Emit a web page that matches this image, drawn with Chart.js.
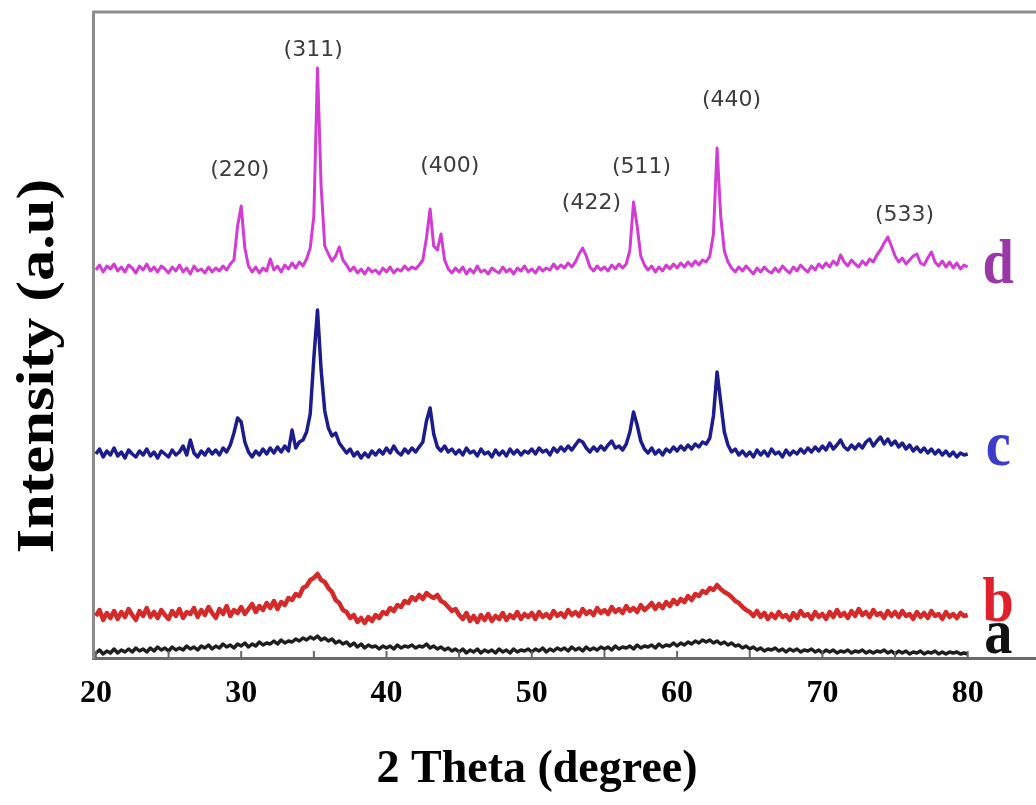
<!DOCTYPE html>
<html>
<head>
<meta charset="utf-8">
<script src="https://cdn.jsdelivr.net/npm/chart.js@4.4.1/dist/chart.umd.min.js"></script>
<style>
  html, body { margin: 0; padding: 0; background: #fff; }
  #xrd { display: block; }
</style>
</head>
<body>
<canvas id="xrd" width="1036" height="805"></canvas>
<script>
// 2 theta (degree)
const twoTheta = [
  20,20.25,20.5,20.75,21,21.25,21.5,21.75,22,22.25,22.5,22.75,23,23.25,23.5,23.75,24,24.25,24.5,24.75,
  25,25.25,25.5,25.75,26,26.25,26.5,26.75,27,27.25,27.5,27.75,28,28.25,28.5,28.75,29,29.25,29.5,29.75,
  30,30.25,30.5,30.75,31,31.25,31.5,31.75,32,32.25,32.5,32.75,33,33.25,33.5,33.75,34,34.25,34.5,34.75,
  35,35.25,35.5,35.75,36,36.25,36.5,36.75,37,37.25,37.5,37.75,38,38.25,38.5,38.75,39,39.25,39.5,39.75,
  40,40.25,40.5,40.75,41,41.25,41.5,41.75,42,42.25,42.5,42.75,43,43.25,43.5,43.75,44,44.25,44.5,44.75,
  45,45.25,45.5,45.75,46,46.25,46.5,46.75,47,47.25,47.5,47.75,48,48.25,48.5,48.75,49,49.25,49.5,49.75,
  50,50.25,50.5,50.75,51,51.25,51.5,51.75,52,52.25,52.5,52.75,53,53.25,53.5,53.75,54,54.25,54.5,54.75,
  55,55.25,55.5,55.75,56,56.25,56.5,56.75,57,57.25,57.5,57.75,58,58.25,58.5,58.75,59,59.25,59.5,59.75,
  60,60.25,60.5,60.75,61,61.25,61.5,61.75,62,62.25,62.5,62.75,63,63.25,63.5,63.75,64,64.25,64.5,64.75,
  65,65.25,65.5,65.75,66,66.25,66.5,66.75,67,67.25,67.5,67.75,68,68.25,68.5,68.75,69,69.25,69.5,69.75,
  70,70.25,70.5,70.75,71,71.25,71.5,71.75,72,72.25,72.5,72.75,73,73.25,73.5,73.75,74,74.25,74.5,74.75,
  75,75.25,75.5,75.75,76,76.25,76.5,76.75,77,77.25,77.5,77.75,78,78.25,78.5,78.75,79,79.25,79.5,79.75,
  80
];

// intensity (a.u), curves already offset (stacked)
const sampleA = [
  5,8,4,7,5,9,5,8,6,9,6,10,7,9,6,10,7,11,8,10,
  7,11,8,10,8,12,9,11,8,12,10,13,9,12,10,14,11,13,10,14,
  12,15,11,14,12,16,13,15,14,17,14,18,15,17,16,19,17,20,18,21,
  19,22,18,20,17,19,15,17,14,16,12,15,11,14,10,13,11,12,9,12,
  10,12,9,13,10,12,11,13,10,12,11,14,10,12,9,11,8,10,7,9,
  6,9,5,8,6,9,5,8,6,8,5,9,6,8,5,9,6,8,7,9,
  6,9,7,10,6,9,7,10,8,10,7,11,8,10,7,11,8,10,8,11,
  9,11,8,12,9,11,10,12,9,13,10,12,11,13,10,14,11,13,12,15,
  12,15,13,16,14,17,15,18,16,18,15,17,14,16,13,15,12,13,10,12,
  9,11,8,10,7,9,8,10,7,9,6,9,7,9,6,8,7,9,6,8,
  5,8,6,8,5,7,6,8,5,7,6,8,5,7,5,7,6,8,5,7,
  4,7,5,7,4,6,5,7,4,6,5,7,4,6,4,6,5,6,4,5,
  4
];

const sampleB = [
  42,48,38,45,40,47,39,46,41,49,43,38,47,42,50,41,46,40,48,43,
  39,47,42,49,40,46,44,50,41,48,43,51,45,40,49,44,52,42,48,45,
  51,44,49,54,46,52,48,55,50,57,49,56,53,60,58,64,62,70,72,78,
  80,84,78,76,70,66,58,55,48,46,40,43,36,40,35,41,37,43,40,46,
  44,50,47,53,51,57,55,61,58,63,59,65,62,60,63,57,55,51,47,49,
  43,39,45,37,42,36,43,38,44,37,42,39,45,38,43,40,46,39,44,41,
  45,39,46,41,44,40,47,42,45,41,48,43,46,42,49,44,47,43,50,45,
  48,44,51,46,49,45,52,47,50,46,53,48,51,55,49,54,50,56,52,58,
  54,59,56,62,58,64,62,67,65,70,68,73,69,66,64,61,57,55,51,48,
  46,42,47,41,45,39,44,40,46,41,43,38,45,40,47,42,44,39,46,41,
  44,39,46,41,48,42,45,40,47,42,49,43,46,41,48,43,45,40,47,42,
  46,41,47,42,44,39,46,41,45,40,47,42,44,39,46,41,44,40,45,42,
  43
];

const sampleC = [
  204,209,201,207,203,210,202,206,200,208,204,201,207,203,209,202,206,200,207,204,
  201,208,203,206,212,203,218,205,201,207,203,209,204,208,203,210,206,213,225,240,
  236,216,206,201,207,203,209,204,210,205,211,206,212,207,228,210,216,218,226,244,
  300,348,288,247,230,222,225,215,210,205,209,202,206,200,205,201,207,203,208,204,
  210,205,212,206,203,209,205,210,206,211,216,237,250,224,211,207,212,206,209,204,
  208,203,210,205,207,202,209,204,206,201,208,203,207,202,209,204,208,203,207,205,
  209,204,210,206,208,203,210,206,211,207,212,208,213,218,216,210,206,211,207,212,
  208,213,217,210,212,208,214,226,246,233,217,209,205,210,204,208,203,209,206,211,
  207,212,208,213,209,214,211,216,214,220,242,286,256,226,213,206,209,203,207,202,
  206,201,208,203,207,202,209,204,206,201,208,203,207,204,209,205,210,206,211,207,
  212,208,215,209,213,218,211,208,213,209,214,210,216,219,212,217,221,214,219,213,
  217,211,215,209,213,207,211,206,210,205,209,204,208,203,207,202,206,201,205,203,
  204
];

const sampleD = [
  388,393,386,392,389,394,387,391,386,393,390,385,392,388,394,387,391,386,392,389,
  385,391,387,393,386,390,384,392,387,389,385,391,386,390,387,392,388,394,398,432,
  452,410,392,386,391,385,390,387,399,388,392,386,393,389,395,390,396,392,399,410,
  442,590,472,412,404,397,402,411,398,393,387,391,385,389,384,390,386,388,384,390,
  386,391,385,389,387,392,388,391,389,393,398,420,449,412,408,424,398,389,385,390,
  386,391,384,389,385,392,386,388,384,390,387,385,391,386,389,384,390,387,392,386,
  389,385,391,387,390,388,394,389,393,390,395,391,396,404,410,402,391,387,392,388,
  391,387,393,389,394,390,394,408,456,432,402,393,388,392,386,391,387,393,389,394,
  390,395,391,396,392,397,393,398,396,402,424,510,442,407,396,390,386,391,387,392,
  388,384,390,386,391,387,385,390,386,392,388,385,391,387,393,389,386,392,388,394,
  390,395,391,397,393,403,396,392,398,394,391,397,393,399,396,403,408,415,421,412,
  402,396,400,394,398,402,404,395,393,400,406,396,392,397,391,396,390,395,389,393,
  391
];

const sampleNames = ['a', 'b', 'c', 'd'];
const sampleColors = ['#1e1e1e', '#d42a2a', '#1c1c8c', '#d23cd2'];
const sampleWidths = [3.5, 4.5, 3.5, 3];
const letterColors = ['#111111', '#e0202a', '#3c3ccc', '#9a38a6'];
const letterY = [22, 54, 210, 392];   // where the a-d letters sit (intensity units)

// Miller indices and where they are written
const hklLabels = ['(220)', '(311)', '(400)', '(422)', '(511)', '(440)', '(533)'];
const hklTheta = [29.9, 34.95, 44.35, 54.1, 57.55, 63.75, 75.65];
const hklInt = [488, 608, 492, 455, 491, 558, 443];

const xTicks = [20, 30, 40, 50, 60, 70, 80];
const xMinorTicks = [25, 35, 45, 55, 65, 75];

function toPoints(ys) {
    return ys.map(function(y, i) {
        return { x: twoTheta[i], y: y };
    });
}

const serif = "'Liberation Serif', 'Times New Roman', serif";

// frame top line, inward ticks, labels
const decorPlugin = {
    id: 'decor',
    afterDraw(chart) {
        const ctx = chart.ctx;
        const area = chart.chartArea;
        const xs = chart.scales.x;
        const ys = chart.scales.y;
        ctx.save();

        // top frame line
        ctx.strokeStyle = '#8c8c8c';
        ctx.lineWidth = 3;
        ctx.beginPath();
        ctx.moveTo(area.left, area.top);
        ctx.lineTo(area.right, area.top);
        ctx.stroke();

        // tick marks pointing inside
        ctx.strokeStyle = '#666';
        ctx.lineWidth = 2;
        xTicks.concat(xMinorTicks).forEach(function(v) {
            const px = xs.getPixelForValue(v);
            ctx.beginPath();
            ctx.moveTo(px, area.bottom);
            ctx.lineTo(px, area.bottom - 7);
            ctx.stroke();
        });

        // hkl labels
        ctx.fillStyle = '#3c3c3c';
        ctx.font = "22px 'DejaVu Sans', Verdana, sans-serif";
        ctx.textAlign = 'center';
        ctx.textBaseline = 'middle';
        hklLabels.forEach(function(t, i) {
            ctx.fillText(t, xs.getPixelForValue(hklTheta[i]), ys.getPixelForValue(hklInt[i]));
        });

        // sample letters
        ctx.font = 'bold 64px ' + serif;
        sampleNames.forEach(function(n, i) {
            ctx.save();
            ctx.translate(xs.getPixelForValue(82.1), ys.getPixelForValue(letterY[i]));
            ctx.scale(0.88, 1);
            ctx.fillStyle = letterColors[i];
            ctx.fillText(n, 0, 0);
            ctx.restore();
        });

        // y title
        ctx.save();
        ctx.translate(40, 366);
        ctx.rotate(-Math.PI / 2);
        ctx.scale(1.2, 1);
        ctx.fillStyle = '#000';
        ctx.font = 'bold 52px ' + serif;
        ctx.fillText('Intensity (a.u)', 0, 0);
        ctx.restore();

        // x title
        ctx.fillStyle = '#000';
        ctx.font = 'bold 46px ' + serif;
        ctx.fillText('2 Theta (degree)', 537, 770);

        ctx.restore();
    }
};

const ctx = document.getElementById('xrd').getContext('2d');
const xrdChart = new Chart(ctx, {
    type: 'line',
    data: {
        datasets: [sampleA, sampleB, sampleC, sampleD].map(function(ys, i) {
            return {
                label: sampleNames[i],
                data: toPoints(ys),
                borderColor: sampleColors[i],
                borderWidth: sampleWidths[i],
                borderJoinStyle: 'round',
                pointRadius: 0,
                tension: 0,
                fill: false
            };
        })
    },
    options: {
        responsive: false,
        animation: false,
        layout: { padding: { top: 12, left: 0, right: 0, bottom: 0 } },
        plugins: {
            legend: { display: false },
            tooltip: { enabled: false }
        },
        scales: {
            x: {
                type: 'linear',
                min: 19.8,
                max: 84.7,
                afterBuildTicks: function(scale) {
                    scale.ticks = xTicks.map(function(v) { return { value: v }; });
                },
                afterFit: function(scale) { scale.height = 147; },
                grid: { display: false, drawTicks: false },
                border: { display: true, color: '#6a6a6a', width: 3 },
                ticks: {
                    padding: 17,
                    color: '#000',
                    maxRotation: 0,
                    font: { family: serif, size: 32, weight: 'bold' }
                }
            },
            y: {
                min: 0,
                max: 646,
                afterFit: function(scale) { scale.width = 93; },
                grid: { display: false, drawTicks: false },
                border: { display: true, color: '#8c8c8c', width: 3 },
                ticks: { display: false }
            }
        }
    },
    plugins: [decorPlugin]
});
</script>
</body>
</html>
